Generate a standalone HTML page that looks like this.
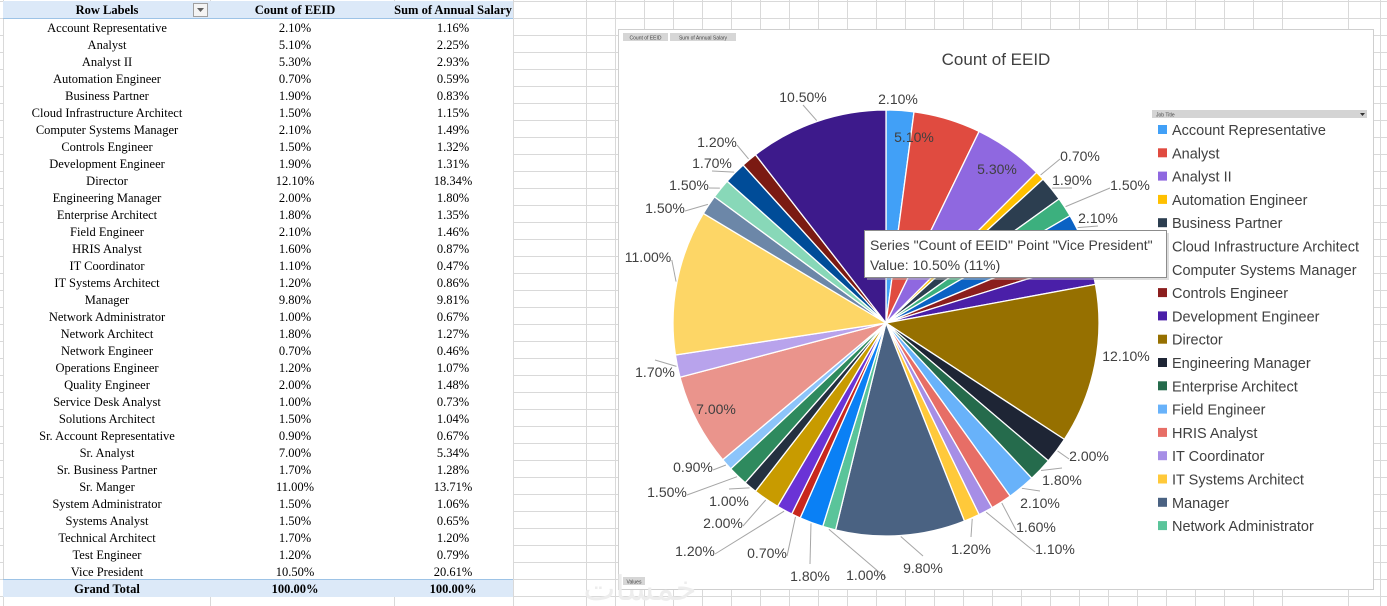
<!DOCTYPE html>
<html><head><meta charset="utf-8">
<style>
html,body{margin:0;padding:0;background:#fff;width:1387px;height:606px;overflow:hidden}
svg{display:block}
.t{font-family:"Liberation Serif",serif;font-size:12.5px;fill:#000}
.c{font-family:"Liberation Sans",sans-serif;fill:#404040}
</style></head>
<body>
<svg id="s" width="1387" height="606" viewBox="0 0 1387 606" xmlns="http://www.w3.org/2000/svg">
  <g id="grid"></g>
  <g id="table"></g>
  <g id="chart"></g>
</svg>
<script>
const categories=["Account Representative","Analyst","Analyst II","Automation Engineer","Business Partner","Cloud Infrastructure Architect","Computer Systems Manager","Controls Engineer","Development Engineer","Director","Engineering Manager","Enterprise Architect","Field Engineer","HRIS Analyst","IT Coordinator","IT Systems Architect","Manager","Network Administrator","Network Architect","Network Engineer","Operations Engineer","Quality Engineer","Service Desk Analyst","Solutions Architect","Sr. Account Representative","Sr. Analyst","Sr. Business Partner","Sr. Manger","System Administrator","Systems Analyst","Technical Architect","Test Engineer","Vice President"];
const countValues=[2.10,5.10,5.30,0.70,1.90,1.50,2.10,1.50,1.90,12.10,2.00,1.80,2.10,1.60,1.10,1.20,9.80,1.00,1.80,0.70,1.20,2.00,1.00,1.50,0.90,7.00,1.70,11.00,1.50,1.50,1.70,1.20,10.50];
const salaryValues=[1.16,2.25,2.93,0.59,0.83,1.15,1.49,1.32,1.31,18.34,1.80,1.35,1.46,0.87,0.47,0.86,9.81,0.67,1.27,0.46,1.07,1.48,0.73,1.04,0.67,5.34,1.28,13.71,1.06,0.65,1.20,0.79,20.61];
const colors=["#41a0f7","#e04b40","#8f68e0","#ffc000","#2c3e50","#3cb07e","#0a62c4","#8b1e1e","#4a1fa8","#967000","#1e2535","#256b4c","#68b2fa","#e76e66","#a68ee6","#ffc93a","#4a6282","#5ac49a","#0a80f5","#c8281e","#6a33d6","#c89b00","#243040","#2e8a5e","#8cc4fa","#ea948c","#b8a3ec","#fdd666","#6c87a8","#88d8b8","#004c98","#7b1a12","#3d1a8b"];
// label placement (layout, not data)
const labelPos=[[898,99],[914,137],[997,169],[1080,156],[1072,180],[1130,185],[1098,218],[1110,240],[1110,260],[1126,356],[1089,456],[1062,480],[1040,503],[1036,527],[1055,549],[971,549],[923,568],[866,575],[810,576],[767,553],[695,551],[723,523],[729,501],[667,492],[693,467],[716,409],[655,372],[648,257],[665,208],[689,185],[712,163],[717,142],[803,97]];
const insideLabels=[1,2,25];

const NS="http://www.w3.org/2000/svg";
function mk(tag,attrs,parent,text){const e=document.createElementNS(NS,tag);for(const k in attrs)e.setAttribute(k,attrs[k]);if(text!==undefined)e.textContent=text;parent.appendChild(e);return e;}
const grid=document.getElementById('grid'),table=document.getElementById('table'),chart=document.getElementById('chart');

for(let y=1;y<606;y+=17){mk('line',{x1:0,y1:y+.5,x2:1387,y2:y+.5,stroke:'#d9d9d9'},grid);}
const vx=[3,210,394,513,586];for(let x=615;x<=1310;x+=29)vx.push(x);vx.push(1348,1380);
vx.forEach(x=>mk('line',{x1:x+.5,y1:0,x2:x+.5,y2:606,stroke:'#d9d9d9'},grid));

const hdr=mk('rect',{x:3,y:1,width:510,height:17,fill:'#dce9f8'},table);

mk('line',{x1:3,y1:18.5,x2:513,y2:18.5,stroke:'#9dc3e6'},table);
const h1=mk('text',{x:107,y:14,'text-anchor':'middle',class:'t','font-weight':'bold'},table,'Row Labels');

const fb=mk('g',{},table);
mk('rect',{x:193.5,y:3.5,width:14,height:13,fill:'#f4f4f4',stroke:'#a0a0a0'},fb);
mk('path',{d:'M197 8 L204 8 L200.5 12 Z',fill:'#606060'},fb);
const h2=mk('text',{x:295,y:14,'text-anchor':'middle',class:'t','font-weight':'bold'},table,'Count of EEID');

const h3=mk('text',{x:453,y:14,'text-anchor':'middle',class:'t','font-weight':'bold'},table,'Sum of Annual Salary');

mk('rect',{x:4,y:19,width:509,height:561,fill:'#fff'},table);
categories.forEach((c,i)=>{
  const y=18+17*i+14;
  const g=mk('g',{},table);
  
  
  mk('text',{x:107,y:y,'text-anchor':'middle',class:'t'},g,c);
  mk('text',{x:295,y:y,'text-anchor':'middle',class:'t'},g,countValues[i].toFixed(2)+'%');
  mk('text',{x:453,y:y,'text-anchor':'middle',class:'t'},g,salaryValues[i].toFixed(2)+'%');
});
const gt=mk('g',{},table);
mk('rect',{x:3,y:580,width:510,height:17,fill:'#dce9f8'},gt);
mk('line',{x1:3,y1:579.5,x2:513,y2:579.5,stroke:'#9dc3e6'},gt);
mk('text',{x:107,y:593,'text-anchor':'middle',class:'t','font-weight':'bold'},gt,'Grand Total');
mk('text',{x:295,y:593,'text-anchor':'middle',class:'t','font-weight':'bold'},gt,'100.00%');
mk('text',{x:453,y:593,'text-anchor':'middle',class:'t','font-weight':'bold'},gt,'100.00%');

const fr=mk('rect',{x:618.5,y:29.5,width:755,height:560,fill:'#fff',stroke:'#cfcfcf'},chart);

function btn(x,y,w,label,name){const g=mk('g',{},chart);
  mk('rect',{x:x,y:y,width:w,height:8,fill:'#d6d6d6'},g);mk('text',{x:x+w/2,y:y+6.5,'text-anchor':'middle','font-family':'Liberation Sans,sans-serif','font-size':'5px',fill:'#444'},g,label);}
btn(623,33,45,'Count of EEID','count-field-button');
btn(670,33,66,'Sum of Annual Salary','salary-field-button');
const wm=mk('text',{x:640,y:600,'text-anchor':'middle','font-family':'Noto Sans CJK SC,sans-serif','font-size':'34px',fill:'#ededed'},chart,'خمسات');

btn(623,577,22,'Values','values-field-button');
const title=mk('text',{x:996,y:65,'text-anchor':'middle',class:'c','font-size':'17px',fill:'#595959'},chart,'Count of EEID');


const cx=886,cy=323,r=213;
const total=countValues.reduce((a,b)=>a+b,0);
let a0=-Math.PI/2;
const mids=[];
const pie=mk('g',{},chart);
countValues.forEach((v,i)=>{
  const a1=a0+v/total*Math.PI*2;
  const large=(a1-a0)>Math.PI?1:0;
  const p=mk('path',{d:`M${cx} ${cy} L${cx+r*Math.cos(a0)} ${cy+r*Math.sin(a0)} A${r} ${r} 0 ${large} 1 ${cx+r*Math.cos(a1)} ${cy+r*Math.sin(a1)} Z`,fill:colors[i],stroke:'#fff','stroke-width':1.3},pie);
  
  
  mids.push((a0+a1)/2);a0=a1;
});
countValues.forEach((v,i)=>{
  const [lx,ly]=labelPos[i];const txt=v.toFixed(2)+'%';
  if(!insideLabels.includes(i)){
    const w=txt.length*7.6;
    const ex=cx+(r+1)*Math.cos(mids[i]),ey=cy+(r+1)*Math.sin(mids[i]);
    let ax=lx<cx?lx+w/2+1:lx-w/2-1, ay=ly+3;
    if(Math.abs(lx-ex)<w/2+4){ax=lx;ay=ly<cy?ly+8:ly-12;}
    if(Math.hypot(ax-ex,ay-ey)>10){
      const ln=mk('polyline',{points:`${ex},${ey} ${ax},${ay}`,fill:'none',stroke:'#a6a6a6','stroke-width':1},chart);
      
    }
  }
  const t=mk('text',{x:lx,y:ly+5,'text-anchor':'middle',class:'c','font-size':'14px'},chart,txt);
  
  
});

const lg=mk('g',{},chart);
const dd=mk('g',{},lg);
mk('rect',{x:1152,y:110,width:215,height:8,fill:'#d4d4d4'},dd);
mk('text',{x:1156,y:116.5,'font-family':'Liberation Sans,sans-serif','font-size':'5px',fill:'#444'},dd,'Job Title');
mk('path',{d:'M1360 113 L1365 113 L1362.5 116 Z',fill:'#333'},dd);
for(let i=0;i<18;i++){
  const y=130+23.3*i;
  const g=mk('g',{},lg);
  
  
  mk('rect',{x:1158,y:y-5,width:9,height:9,fill:colors[i]},g);
  mk('text',{x:1172,y:y+5,class:'c','font-size':'14.5px',fill:'#595959'},g,categories[i]);
}

const tt=mk('g',{},chart);
mk('rect',{x:867,y:233,width:302,height:47,fill:'#bbb',opacity:.5},tt);
mk('rect',{x:864.5,y:230.5,width:302,height:47,fill:'#fff',stroke:'#8c8c8c'},tt);
mk('text',{x:870,y:250,class:'c','font-size':'14px'},tt,'Series "Count of EEID" Point "Vice President"');
mk('text',{x:870,y:270,class:'c','font-size':'14px'},tt,'Value: 10.50% (11%)');
</script>
</body></html>
